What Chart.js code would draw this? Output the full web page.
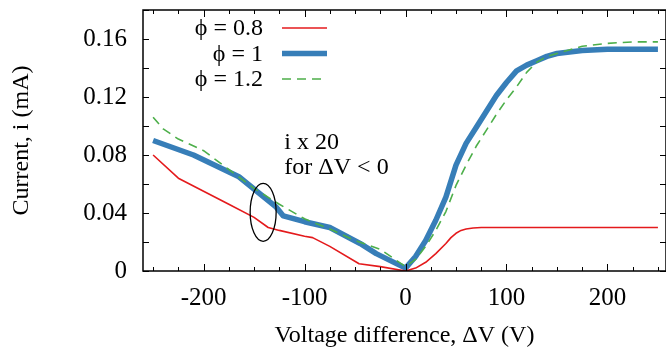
<!DOCTYPE html>
<html>
<head>
<meta charset="utf-8">
<script src="https://cdn.jsdelivr.net/npm/chart.js@4.4.1/dist/chart.umd.min.js"></script>
<style>
  html, body { margin: 0; padding: 0; background: #fff; }
</style>
</head>
<body>
<canvas id="chart" width="666" height="348"></canvas>
<script>
// data (negative side is already x20 scaled)
const phi08Volt = [-250, -225, -200, -175, -150, -136, -125, -100, -92, -75, -46, -25, 0, 10, 20, 30, 40, 45, 50, 55, 60, 67, 75, 100, 150, 200, 250];
const phi08Curr = [0.080, 0.064, 0.055, 0.046, 0.037, 0.030, 0.028, 0.024, 0.023, 0.017, 0.005, 0.003, 0.000, 0.002, 0.006, 0.012, 0.019, 0.023, 0.026, 0.028, 0.029, 0.0297, 0.030, 0.030, 0.030, 0.030, 0.030];

const phi1Volt = [-250, -210, -165, -128, -121, -100, -75, -45, -29, 0, 10, 20, 30, 40, 50, 60, 70, 80, 90, 100, 110, 120, 130, 140, 150, 175, 200, 225, 250];
const phi1Curr = [0.090, 0.080, 0.065, 0.044, 0.038, 0.034, 0.030, 0.019, 0.012, 0.002, 0.010, 0.021, 0.035, 0.051, 0.073, 0.088, 0.099, 0.110, 0.121, 0.130, 0.138, 0.142, 0.145, 0.148, 0.150, 0.152, 0.153, 0.153, 0.153];

const phi12Volt = [-250, -240, -225, -200, -175, -150, -125, -100, -75, -50, -25, 0, 10, 20, 30, 40, 50, 60, 70, 80, 90, 100, 110, 120, 130, 140, 150, 175, 200, 225, 250];
const phi12Curr = [0.106, 0.098, 0.091, 0.083, 0.070, 0.057, 0.046, 0.036, 0.029, 0.021, 0.015, 0.003, 0.008, 0.017, 0.028, 0.041, 0.059, 0.073, 0.086, 0.097, 0.108, 0.118, 0.127, 0.137, 0.144, 0.148, 0.150, 0.155, 0.157, 0.158, 0.158];

const seriesLabels = ['\u03D5 = 0.8', '\u03D5 = 1', '\u03D5 = 1.2'];
const xTickLabels = [-200, -100, 0, 100, 200];
const yTickLabels = [0, 0.04, 0.08, 0.12, 0.16];

const FONT = '"Liberation Serif", "Times New Roman", "DejaVu Serif", serif';

function toPoints(xs, ys) {
    return xs.map((x, i) => ({ x: x, y: ys[i] }));
}

// frame with inward ticks on all four sides
const frameTicks = {
    id: 'frameTicks',
    afterDatasetsDraw(chart) {
        const { ctx, chartArea: a, scales: { x, y } } = chart;
        ctx.save();
        ctx.strokeStyle = '#000';
        ctx.lineWidth = 1.5;
        ctx.strokeRect(a.left, a.top, a.right - a.left, a.bottom - a.top);
        ctx.lineWidth = 1;
        ctx.beginPath();
        for (let v = -250; v <= 250; v += 25) {
            const px = Math.round(x.getPixelForValue(v)) + 0.5;
            const len = v % 100 === 0 ? 7 : 4;
            ctx.moveTo(px, a.bottom); ctx.lineTo(px, a.bottom - len);
            ctx.moveTo(px, a.top); ctx.lineTo(px, a.top + len);
        }
        for (let k = 0; k <= 9; k++) {
            const py = Math.round(y.getPixelForValue(k * 0.02)) + 0.5;
            ctx.moveTo(a.left, py); ctx.lineTo(a.left + 6, py);
            ctx.moveTo(a.right, py); ctx.lineTo(a.right - 6, py);
        }
        ctx.stroke();
        ctx.restore();
    }
};

// legend: text right aligned, sample line to the right
const sideLegend = {
    id: 'sideLegend',
    afterDraw(chart) {
        const { ctx } = chart;
        ctx.save();
        ctx.font = '24px ' + FONT;
        ctx.textAlign = 'right';
        ctx.textBaseline = 'middle';
        chart.data.datasets.forEach((ds, i) => {
            const ty = 28 + i * 25.5;
            ctx.fillStyle = '#000';
            ctx.fillText(ds.label, 263, ty + 1);
            ctx.strokeStyle = ds.borderColor;
            ctx.lineWidth = ds.borderWidth;
            ctx.setLineDash(ds.borderDash || []);
            ctx.beginPath();
            ctx.moveTo(282, ty);
            ctx.lineTo(327, ty);
            ctx.stroke();
        });
        ctx.restore();
    }
};

// "i x 20 for dV < 0" note with the ellipse round the curves
const noteEllipse = {
    id: 'noteEllipse',
    afterDatasetsDraw(chart) {
        const { ctx, scales: { x, y } } = chart;
        ctx.save();
        ctx.strokeStyle = '#000';
        ctx.lineWidth = 1.3;
        ctx.beginPath();
        ctx.ellipse(x.getPixelForValue(-141), y.getPixelForValue(0.0405), 13, 29, 0, 0, Math.PI * 2);
        ctx.stroke();
        ctx.fillStyle = '#000';
        ctx.font = '24px ' + FONT;
        ctx.textAlign = 'left';
        ctx.textBaseline = 'middle';
        const tx = x.getPixelForValue(-120);
        ctx.fillText('i x 20', tx, y.getPixelForValue(0.0885));
        ctx.fillText('for \u0394V < 0', tx, y.getPixelForValue(0.0715));
        ctx.restore();
    }
};

new Chart(document.getElementById('chart'), {
    type: 'line',
    data: {
        datasets: [
            {
                label: seriesLabels[0],
                data: toPoints(phi08Volt, phi08Curr),
                borderColor: '#e41a1c',
                borderWidth: 1.6,
                order: 1
            },
            {
                label: seriesLabels[1],
                data: toPoints(phi1Volt, phi1Curr),
                borderColor: '#377eb8',
                borderWidth: 5.5,
                order: 2
            },
            {
                label: seriesLabels[2],
                data: toPoints(phi12Volt, phi12Curr),
                borderColor: '#4daf4a',
                borderWidth: 1.6,
                borderDash: [9, 6],
                order: 0
            }
        ]
    },
    options: {
        responsive: false,
        animation: false,
        devicePixelRatio: 1,
        layout: { padding: { left: 0, right: 0, top: 10, bottom: 0 } },
        elements: {
            point: { radius: 0 },
            line: { fill: false, tension: 0, borderCapStyle: 'butt', borderJoinStyle: 'round' }
        },
        plugins: { legend: { display: false }, tooltip: { enabled: false } },
        scales: {
            x: {
                type: 'linear',
                min: -260,
                max: 258,
                afterFit: s => { s.height = 77; s.paddingLeft = 0; s.paddingRight = 0; },
                afterBuildTicks: s => { s.ticks = xTickLabels.map(v => ({ value: v })); },
                grid: { display: false, drawTicks: false },
                border: { display: false },
                ticks: { color: '#000', padding: 12, maxRotation: 0, font: { family: FONT, size: 25 } },
                title: {
                    display: true,
                    text: 'Voltage difference, \u0394V (V)',
                    color: '#000',
                    padding: { top: 0, bottom: 0 },
                    font: { family: FONT, size: 24, lineHeight: 1 }
                }
            },
            y: {
                type: 'linear',
                min: 0,
                max: 0.18,
                afterFit: s => { s.width = 143; s.paddingTop = 0; s.paddingBottom = 0; },
                afterBuildTicks: s => { s.ticks = yTickLabels.map(v => ({ value: v })); },
                grid: { display: false, drawTicks: false },
                border: { display: false },
                ticks: { color: '#000', padding: 16, font: { family: FONT, size: 25 }, callback: v => String(v) },
                title: {
                    display: true,
                    text: 'Current, i (mA)',
                    color: '#000',
                    padding: { top: 10, bottom: 0 },
                    font: { family: FONT, size: 24, lineHeight: 1 }
                }
            }
        }
    },
    plugins: [frameTicks, sideLegend, noteEllipse]
});
</script>
</body>
</html>
